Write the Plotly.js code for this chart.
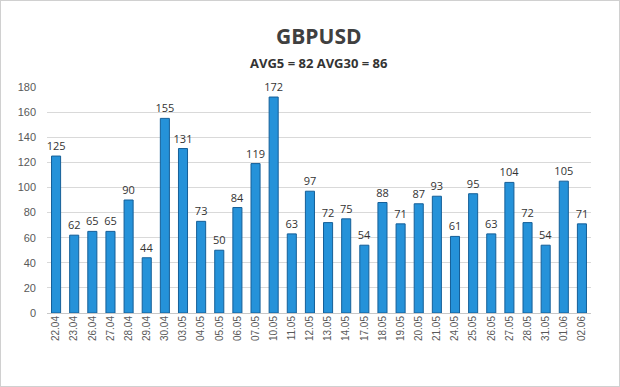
<!DOCTYPE html>
<html><head><meta charset="utf-8">
<script src="https://cdn.plot.ly/plotly-3.0.1.min.js"></script>
<style>html,body{margin:0;padding:0;background:#fff}#c{width:618px;height:385px;border:1px solid #d0d0d0}</style>
</head><body><div id="c"></div>
<script>
const dates = ["22.04","23.04","26.04","27.04","28.04","29.04","30.04","03.05","04.05","05.05","06.05","07.05","10.05","11.05","12.05","13.05","14.05","17.05","18.05","19.05","20.05","21.05","24.05","25.05","26.05","27.05","28.05","31.05","01.06","02.06"];
const values = [125,62,65,65,90,44,155,131,73,50,84,119,172,63,97,72,75,54,88,71,87,93,61,95,63,104,72,54,105,71];
const yTicks = [0,20,40,60,80,100,120,140,160,180];
const titleText = 'GBPUSD';
const subtitleText = 'AVG5 = 82 AVG30 = 86';

Plotly.newPlot('c', [{
  type:'bar', x:dates, y:values,
  text: values.map(String), textposition:'outside', cliponaxis:false, constraintext:'none',
  textfont:{family:'Open Sans, Liberation Sans, Arial', size:11, color:'#333333'},
  marker:{color:'#2592d9', line:{color:'#155f98', width:1}},
  width:0.5
}], {
  width:618, height:385,
  margin:{l:46, r:28, t:86, b:73},
  paper_bgcolor:'#fff', plot_bgcolor:'#fff',
  annotations:[
    {text:'<b>'+titleText+'</b>', xref:'paper', yref:'paper', x:0.5, y:1.226, xanchor:'center', yanchor:'middle', showarrow:false,
     font:{family:'Open Sans, Liberation Sans, Arial', size:21, color:'#404040'}},
    {text:'<b>'+subtitleText+'</b>', xref:'paper', yref:'paper', x:0.5, y:1.106, xanchor:'center', yanchor:'middle', showarrow:false,
     font:{family:'Open Sans, Liberation Sans, Arial', size:13, color:'#333333'}}
  ],
  xaxis:{type:'category', tickangle:-90, tickfont:{family:'Liberation Sans, Arial', size:10, color:'#595959'}, showgrid:false, showline:false, ticks:''},
  yaxis:{range:[0,180], tickvals:yTicks, showgrid:true, gridcolor:'#d9d9d9', zeroline:true, zerolinecolor:'#c8c8c8',
    ticklabelstandoff:10,
    tickfont:{family:'Liberation Sans, Arial', size:11, color:'#595959'}, ticks:'', fixedrange:true},
  showlegend:false
}, {displayModeBar:false, staticPlot:true});
</script></body></html>
